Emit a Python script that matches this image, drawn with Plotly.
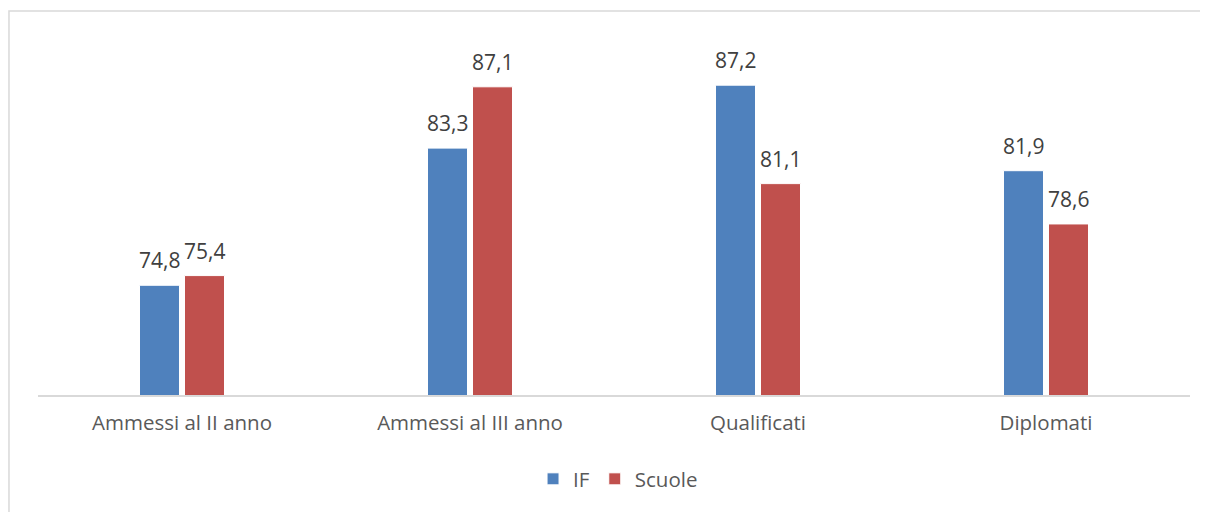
import plotly.graph_objects as go

categories = ["Ammessi al II anno", "Ammessi al III anno", "Qualificati", "Diplomati"]
if_values = [74.8, 83.3, 87.2, 81.9]
scuole_values = [75.4, 87.1, 81.1, 78.6]
series_names = ["IF", "Scuole"]

BLUE = "#4F81BD"
RED = "#C0504D"
FONT = "Open Sans"

fig = go.Figure()
for name, vals, col in [(series_names[0], if_values, BLUE), (series_names[1], scuole_values, RED)]:
    fig.add_trace(go.Bar(
        x=categories, y=vals, name=name,
        marker=dict(color=col, line=dict(color="white", width=1)),
        hoverinfo="x+y",
    ))

def fmt(v):
    return f"{v:.1f}".replace(".", ",")

for vals, shift in [(if_values, -22.5), (scuole_values, 22.5)]:
    for c, v in zip(categories, vals):
        fig.add_annotation(x=c, y=v, text=fmt(v), showarrow=False,
                           xshift=shift, yshift=9, yanchor="bottom",
                           font=dict(family=FONT, size=21, color="#404040"))

fig.add_shape(type="rect", xref="paper", yref="paper",
              x0=-0.0252, x1=1.2, y0=-0.4, y1=1.0817,
              line=dict(color="#d9d9d9", width=1.5), fillcolor="rgba(0,0,0,0)", layer="below")

fig.update_layout(
    width=1208, height=512,
    margin=dict(l=30, r=26, t=32, b=125),
    paper_bgcolor="white", plot_bgcolor="white",
    barmode="group", bargap=0.6875, bargroupgap=0.111,
    showlegend=True,
    legend=dict(orientation="h", x=0.505, xanchor="center", xref="container",
                y=1 - 471 / 512, yanchor="middle", yref="container",
                font=dict(family=FONT, size=20.5, color="#595959"),
                tracegroupgap=0),
    xaxis=dict(showline=True, linecolor="#d9d9d9", linewidth=1.5, ticks="",
               tickfont=dict(family=FONT, size=20.5, color="#595959"),
               ticklabelstandoff=9, showgrid=False, zeroline=False),
    yaxis=dict(range=[68, 90], visible=False, showgrid=False, zeroline=False),
)

fig.write_html("out.html")
